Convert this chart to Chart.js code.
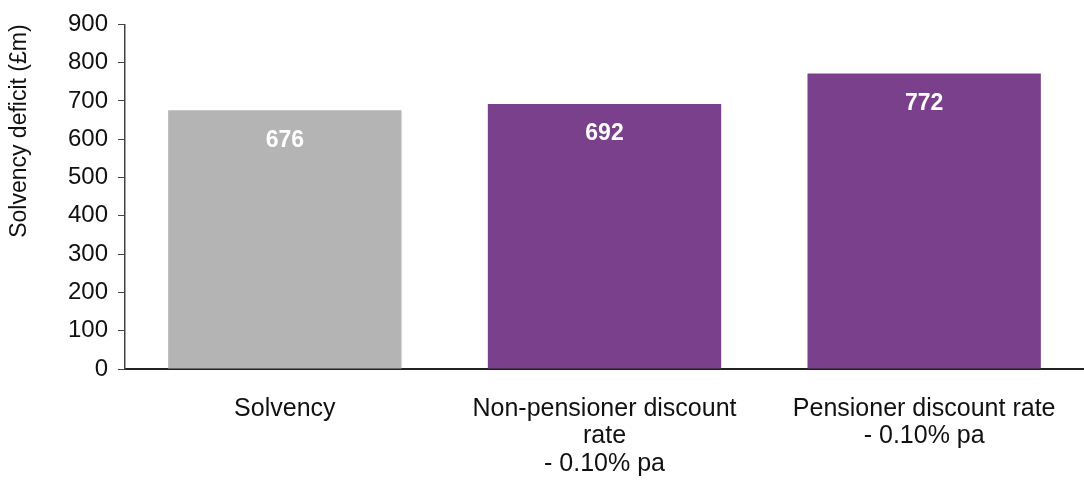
<!DOCTYPE html>
<html>
<head>
<meta charset="utf-8">
<script src="https://cdn.jsdelivr.net/npm/chart.js@4/dist/chart.umd.min.js"></script>
<style>
  html, body { margin: 0; padding: 0; background: #fff; }
  #wrap { width: 1084px; height: 492px; }
</style>
</head>
<body>
<div id="wrap"><canvas id="bar" width="1084" height="492"></canvas></div>
<script>
const categories = [
  'Solvency',
  ['Non-pensioner discount', 'rate', '- 0.10% pa'],
  ['Pensioner discount rate', '- 0.10% pa']
];
const deficitValues = [676, 692, 772];
const barColours = ['#b4b4b4', '#7a408b', '#7a408b'];
const yTicks = [0, 100, 200, 300, 400, 500, 600, 700, 800, 900];

const fontFamily = '"Liberation Sans", Arial, sans-serif';

// white value labels inside the top of each bar
const valueLabels = {
  id: 'valueLabels',
  afterDatasetsDraw(chart) {
    const ctx = chart.ctx;
    const meta = chart.getDatasetMeta(0);
    ctx.save();
    ctx.fillStyle = '#ffffff';
    ctx.font = 'bold 23px ' + fontFamily;
    ctx.textAlign = 'center';
    ctx.textBaseline = 'middle';
    meta.data.forEach((bar, i) => {
      ctx.fillText(String(deficitValues[i]), bar.x, bar.y + 30);
    });
    ctx.restore();
  }
};

const barCtx = document.getElementById('bar').getContext('2d');
new Chart(barCtx, {
  type: 'bar',
  data: {
    labels: categories,
    datasets: [{
      label: 'Solvency deficit',
      data: deficitValues,
      backgroundColor: barColours,
      borderWidth: 0,
      barPercentage: 0.73,
      categoryPercentage: 1.0
    }]
  },
  options: {
    responsive: false,
    animation: false,
    layout: { padding: { top: 13, right: 0, left: 4, bottom: 0 } },
    plugins: {
      legend: { display: false },
      tooltip: { enabled: false }
    },
    scales: {
      x: {
        grid: { display: false, drawTicks: false },
        border: { color: '#222', width: 2 },
        ticks: {
          color: '#111',
          font: { family: fontFamily, size: 25, lineHeight: 1.1 },
          padding: 26,
          maxRotation: 0,
          autoSkip: false
        },
        afterFit: axis => { axis.height = 123; }
      },
      y: {
        min: 0,
        max: 900,
        afterBuildTicks: axis => { axis.ticks = yTicks.map(v => ({ value: v })); },
        grid: { drawOnChartArea: false, drawTicks: true, tickLength: 7, color: '#444' },
        border: { color: '#444', width: 1.5 },
        ticks: {
          color: '#111',
          font: { family: fontFamily, size: 24 },
          padding: 10
        },
        title: {
          display: true,
          text: 'Solvency deficit (£m)',
          align: 'end',
          color: '#111',
          font: { family: fontFamily, size: 23 },
          padding: { top: 2, bottom: 20 }
        },
        afterFit: axis => { axis.width = 121; }
      }
    }
  },
  plugins: [valueLabels]
});
</script>
</body>
</html>
